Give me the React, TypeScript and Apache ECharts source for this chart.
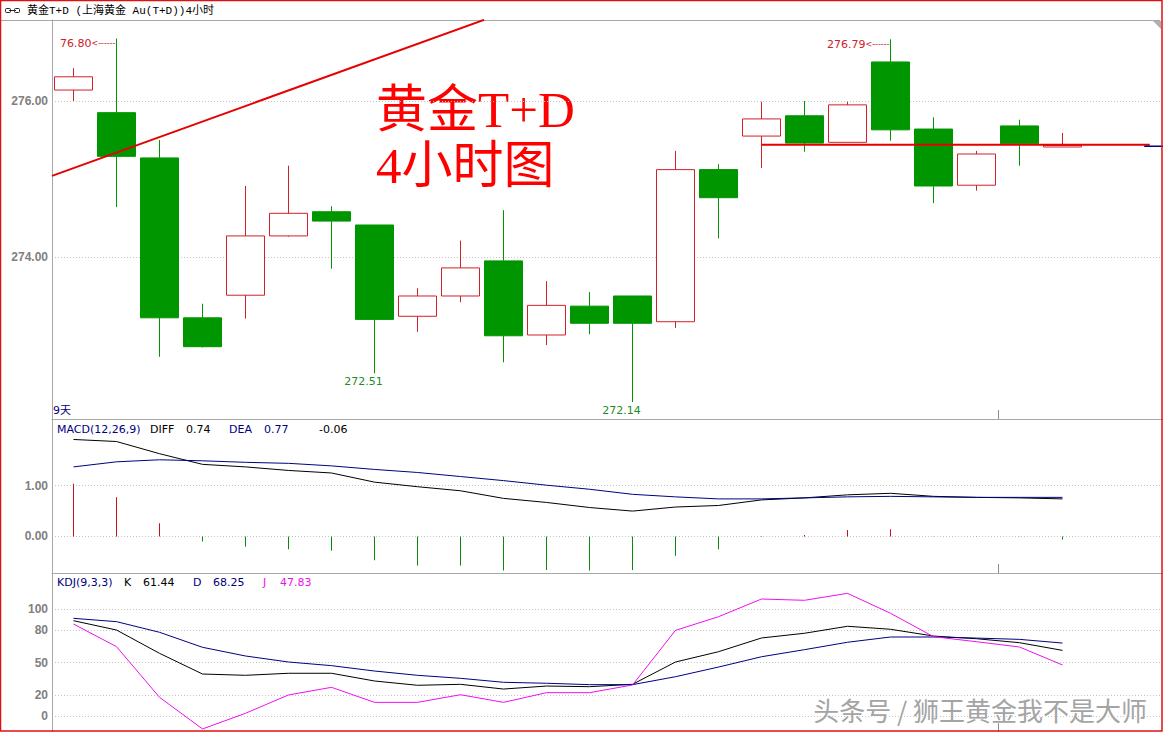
import React, { useEffect, useRef } from "react";
import * as echarts from "echarts";

// ---------- data ----------
const periods = ["1","2","3","4","5","6","7","8","9","10","11","12","13","14","15","16","17","18","19","20","21","22","23","24","",""];
const candleOpen = [276.14,275.85,275.27,273.22,273.51,274.27,274.58,274.41,273.24,273.50,273.95,273.00,273.37,273.50,273.17,275.12,275.55,275.81,275.47,276.50,275.64,274.92,275.68,275.41];
const candleClose = [276.31,275.29,273.22,272.85,274.27,274.56,274.46,273.20,273.50,273.86,272.99,273.38,273.15,273.15,275.12,274.76,275.77,275.46,275.95,275.63,274.91,275.32,275.45,275.43];
const candleLow = [276.00,274.64,272.72,272.84,273.21,274.26,273.85,272.51,273.04,273.42,272.65,272.87,273.01,272.14,273.09,274.24,275.14,275.35,275.47,275.49,274.69,274.85,275.17,275.41];
const candleHigh = [276.42,276.80,275.50,273.40,274.91,275.17,274.65,274.41,273.60,274.21,274.60,273.69,273.55,273.50,275.36,275.19,275.99,276.00,275.99,276.79,275.79,275.36,275.76,275.59];

const macdDiff = [1.91,1.87,1.63,1.42,1.37,1.30,1.25,1.07,0.98,0.90,0.75,0.67,0.57,0.50,0.58,0.61,0.72,0.76,0.82,0.85,0.79,0.77,0.76,0.74];
const macdDea = [1.37,1.47,1.51,1.49,1.46,1.44,1.39,1.32,1.26,1.18,1.10,1.01,0.93,0.83,0.78,0.74,0.74,0.76,0.78,0.79,0.78,0.77,0.77,0.77];
const macdHist = [1.04,0.77,0.26,-0.10,-0.20,-0.25,-0.28,-0.47,-0.57,-0.57,-0.67,-0.66,-0.67,-0.66,-0.38,-0.25,-0.01,0.03,0.13,0.14,0.005,0.004,-0.005,-0.06];

const kdjK = [89.1,80.4,58.7,39.4,38.2,40.1,40.1,32.9,28.9,29.8,25.4,28.2,27.6,29.8,50.6,60.2,73.0,77.4,83.9,81.1,74.8,72.3,68.6,61.44];
const kdjD = [91.3,88.2,78.3,64.3,56.2,50.6,47.2,42.2,38.2,35.4,31.7,30.8,29.5,29.5,36.9,45.9,55.5,62.1,69.0,73.9,73.9,72.9,71.7,68.25];
const kdjJ = [86.0,64.9,17.7,-11.8,2.8,19.9,27.0,13.0,13.0,20.1,13.0,22.0,22.0,29.2,80.1,92.8,109.3,108.1,114.6,96.0,74.2,69.5,64.6,47.83];

const priceTicks = [274, 276];
const macdTicks = [0, 1];
const kdjTicks = [0, 20, 50, 80, 100];
const dayBoundaryTicks = [21.5];

const trendLine = [[-0.5, 275.04], [9.55, 277.04]];
const supportLine = [[16.0, 275.44], [25.03, 275.44]];
const lastPriceMark = [[24.9, 275.42], [25.5, 275.42]];

const highMarkIdx = [1, 19];
const highLabelTrim = [1, 0];
const lowMarkIdx = [7, 13];

// ---------- styles ----------
const RED = "#d0202a";
const GREEN = "#009600";
const NAVY = "#000080";
const MAGENTA = "#ee10ee";
const GRAY = "#a8a8a8";
const SANS = "'DejaVu Sans', 'Noto Sans CJK SC', sans-serif";
const GRID_LEFT = 52;
const GRID_WIDTH = 1118;

export default function App() {
  const ref = useRef<HTMLDivElement>(null);

  useEffect(() => {
    if (!ref.current) return;
    const chart = echarts.init(ref.current, undefined, { renderer: "svg" });

    const candleData = candleOpen.map((o, i) => [o, candleClose[i], candleLow[i], candleHigh[i]]);
    const n = candleOpen.length;
    const last = n - 1;
    const xMin = -0.5;
    const xMax = periods.length - 0.5;

    const yLabel = {
      show: true,
      color: "#808080",
      fontFamily: "'Liberation Sans', Arial, sans-serif",
      fontWeight: "bold" as const,
      fontSize: 12,
      margin: 4,
    };
    const splitLine = { show: true, lineStyle: { color: "#c4c4c4", type: [1, 2] as any, width: 1 } };

    const xCat = (gridIndex: number) => ({
      type: "category" as const,
      gridIndex,
      data: periods,
      boundaryGap: true,
      position: "bottom" as const,
      axisLine: { show: true, onZero: false, lineStyle: { color: GRAY } },
      axisTick: { show: false },
      axisLabel: { show: false },
      splitLine: { show: false },
    });

    const xVal = (gridIndex: number) => ({
      type: "value" as const,
      gridIndex,
      min: xMin,
      max: xMax,
      position: "bottom" as const,
      axisLine: { show: false, onZero: false },
      axisTick: { show: true, inside: true, length: 9, customValues: dayBoundaryTicks, lineStyle: { color: "#8c8c8c" } },
      axisLabel: { show: false, customValues: dayBoundaryTicks },
      splitLine: { show: false },
    });

    const yAxisBase = {
      type: "value" as const,
      position: "left" as const,
      axisLine: { show: true, onZero: false, lineStyle: { color: GRAY } },
      splitLine,
    };

    const gridBase = { left: GRID_LEFT, width: GRID_WIDTH, outerBoundsMode: "none", containLabel: false };

    const option: any = {
      animation: false,
      backgroundColor: "#ffffff",
      grid: [
        { ...gridBase, top: 20, height: 399 },
        { ...gridBase, top: 419, height: 154 },
        { ...gridBase, top: 573, height: 159 },
      ],
      xAxis: [xCat(0), xCat(1), xCat(2), xVal(0), xVal(1), xVal(2)],
      yAxis: [
        {
          ...yAxisBase, gridIndex: 0, min: 271.923, max: 277.038,
          axisTick: { show: false, customValues: priceTicks },
          axisLabel: { ...yLabel, customValues: priceTicks, formatter: (v: number) => v.toFixed(2) },
        },
        {
          ...yAxisBase, gridIndex: 1, min: -0.719, max: 2.313,
          axisTick: { show: false, customValues: macdTicks },
          axisLabel: { ...yLabel, customValues: macdTicks, formatter: (v: number) => v.toFixed(2) },
        },
        {
          ...yAxisBase, gridIndex: 2, min: -14.63, max: 133.55,
          axisTick: { show: false, customValues: kdjTicks },
          axisLabel: { ...yLabel, customValues: kdjTicks, formatter: (v: number) => String(Math.round(v)) },
        },
      ],
      series: [
        {
          type: "candlestick",
          xAxisIndex: 0, yAxisIndex: 0,
          data: candleData,
          barWidth: 38,
          itemStyle: { color: "#ffffff", color0: GREEN, borderColor: RED, borderColor0: GREEN, borderWidth: 1 },
          markPoint: {
            symbol: "circle",
            symbolSize: 0,
            silent: true,
            animation: false,
            data: [
              ...highMarkIdx.map((i, k) => ({
                coord: [i, candleHigh[i]],
                value: candleHigh[i],
                label: {
                  show: true,
                  position: "left",
                  distance: 1,
                  offset: [0, 5],
                  formatter: `{v|${candleHigh[i].toFixed(2).slice(highLabelTrim[k])}}{a|<------}`,
                  rich: {
                    v: { color: RED, fontSize: 11, fontFamily: SANS },
                    a: { color: RED, fontSize: 8, fontFamily: SANS },
                  },
                },
              })),
              ...lowMarkIdx.map((i) => ({
                coord: [i, candleLow[i]],
                value: candleLow[i],
                label: {
                  show: true,
                  position: "bottom",
                  distance: 3,
                  offset: [-11, 0],
                  color: "#1f8a1f",
                  fontSize: 11,
                  fontFamily: SANS,
                  formatter: candleLow[i].toFixed(2),
                },
              })),
            ],
          },
        },
        {
          type: "line", xAxisIndex: 3, yAxisIndex: 0, data: trendLine,
          symbol: "none", lineStyle: { color: "#e60000", width: 2 }, clip: true, silent: true,
        },
        {
          type: "line", xAxisIndex: 3, yAxisIndex: 0, data: supportLine,
          symbol: "none", lineStyle: { color: "#e60000", width: 2 }, clip: true, silent: true,
        },
        {
          type: "line", xAxisIndex: 3, yAxisIndex: 0, data: lastPriceMark,
          symbol: "none", lineStyle: { color: NAVY, width: 1.5 }, clip: true, silent: true,
        },
        {
          type: "bar", xAxisIndex: 1, yAxisIndex: 1, data: macdHist, barWidth: 1,
          itemStyle: { color: (p: any) => (p.value >= 0 ? "#c8101c" : "#0a8a0a") },
          silent: true,
        },
        {
          type: "line", xAxisIndex: 1, yAxisIndex: 1, data: macdDiff,
          symbol: "none", lineStyle: { color: "#000000", width: 1 }, silent: true,
        },
        {
          type: "line", xAxisIndex: 1, yAxisIndex: 1, data: macdDea,
          symbol: "none", lineStyle: { color: NAVY, width: 1 }, silent: true,
        },
        {
          type: "line", xAxisIndex: 2, yAxisIndex: 2, data: kdjK,
          symbol: "none", lineStyle: { color: "#000000", width: 1 }, silent: true, clip: true,
        },
        {
          type: "line", xAxisIndex: 2, yAxisIndex: 2, data: kdjD,
          symbol: "none", lineStyle: { color: NAVY, width: 1 }, silent: true, clip: true,
        },
        {
          type: "line", xAxisIndex: 2, yAxisIndex: 2, data: kdjJ,
          symbol: "none", lineStyle: { color: MAGENTA, width: 1 }, silent: true, clip: true,
        },
      ],
      graphic: [
        // header separator
        { type: "line", shape: { x1: 0, y1: 20.5, x2: 1160, y2: 20.5 }, style: { stroke: GRAY, lineWidth: 1 }, silent: true },
        { type: "polygon", shape: { points: [[1153, 21], [1161, 21], [1161, 29]] }, style: { fill: "#b0b0b0" }, silent: true },
        // header link icon
        { type: "rect", shape: { x: 5.5, y: 8.5, width: 5, height: 4, r: 1 }, style: { fill: "none", stroke: "#222", lineWidth: 1 }, silent: true },
        { type: "rect", shape: { x: 14.5, y: 8.5, width: 5, height: 4, r: 1 }, style: { fill: "none", stroke: "#222", lineWidth: 1 }, silent: true },
        { type: "line", shape: { x1: 9, y1: 10.5, x2: 16, y2: 10.5 }, style: { stroke: "#222", lineWidth: 1 }, silent: true },
        {
          type: "text", x: 27, y: 11, silent: true,
          style: { text: "黄金T+D (上海黄金 Au(T+D))4小时", fill: "#000", fontSize: 11, fontFamily: "'Liberation Mono', 'Noto Sans CJK SC', monospace", verticalAlign: "middle" },
        },
        // big red title
        {
          type: "text", x: 376, y: 110, silent: true,
          style: { text: "黄金T+D", fill: "#ff0000", fontSize: 51, fontFamily: "'Liberation Serif', 'Noto Sans CJK SC', serif", verticalAlign: "middle" },
        },
        {
          type: "text", x: 376, y: 166, silent: true,
          style: { text: "4小时图", fill: "#ff0000", fontSize: 51, fontFamily: "'Liberation Serif', 'Noto Sans CJK SC', serif", verticalAlign: "middle" },
        },
        // period label
        { type: "text", x: 53, y: 410, silent: true, style: { text: "9天", fill: NAVY, fontSize: 11, fontFamily: SANS, verticalAlign: "middle" } },
        // MACD header
        { type: "text", x: 57, y: 429, silent: true, style: { text: "MACD(12,26,9)", fill: NAVY, fontSize: 11, fontFamily: SANS, verticalAlign: "middle" } },
        { type: "text", x: 150, y: 429, silent: true, style: { text: "DIFF", fill: "#000", fontSize: 11, fontFamily: SANS, verticalAlign: "middle" } },
        { type: "text", x: 186, y: 429, silent: true, style: { text: macdDiff[last].toFixed(2), fill: "#000", fontSize: 11, fontFamily: SANS, verticalAlign: "middle" } },
        { type: "text", x: 229, y: 429, silent: true, style: { text: "DEA", fill: NAVY, fontSize: 11, fontFamily: SANS, verticalAlign: "middle" } },
        { type: "text", x: 264, y: 429, silent: true, style: { text: macdDea[last].toFixed(2), fill: NAVY, fontSize: 11, fontFamily: SANS, verticalAlign: "middle" } },
        { type: "text", x: 319, y: 429, silent: true, style: { text: macdHist[last].toFixed(2), fill: "#000", fontSize: 11, fontFamily: SANS, verticalAlign: "middle" } },
        // KDJ header
        { type: "text", x: 57, y: 582, silent: true, style: { text: "KDJ(9,3,3)", fill: NAVY, fontSize: 11, fontFamily: SANS, verticalAlign: "middle" } },
        { type: "text", x: 124, y: 582, silent: true, style: { text: "K", fill: "#000", fontSize: 11, fontFamily: SANS, verticalAlign: "middle" } },
        { type: "text", x: 143, y: 582, silent: true, style: { text: kdjK[last].toFixed(2), fill: "#000", fontSize: 11, fontFamily: SANS, verticalAlign: "middle" } },
        { type: "text", x: 193, y: 582, silent: true, style: { text: "D", fill: NAVY, fontSize: 11, fontFamily: SANS, verticalAlign: "middle" } },
        { type: "text", x: 213, y: 582, silent: true, style: { text: kdjD[last].toFixed(2), fill: NAVY, fontSize: 11, fontFamily: SANS, verticalAlign: "middle" } },
        { type: "text", x: 263, y: 582, silent: true, style: { text: "J", fill: MAGENTA, fontSize: 11, fontFamily: SANS, verticalAlign: "middle" } },
        { type: "text", x: 280, y: 582, silent: true, style: { text: kdjJ[last].toFixed(2), fill: MAGENTA, fontSize: 11, fontFamily: SANS, verticalAlign: "middle" } },
        // watermark
        {
          type: "text", x: 1147, y: 709, silent: true, z: 100,
          style: {
            text: "头条号 / 狮王黄金我不是大师", fill: "#a4a4a4", fontSize: 26,
            fontFamily: "'Noto Sans CJK SC', sans-serif", align: "right", verticalAlign: "middle",
            stroke: "#ffffff", lineWidth: 1,
            shadowColor: "rgba(0,0,0,0.6)", shadowOffsetX: 1, shadowOffsetY: 1, shadowBlur: 1,
          },
        },
        // outer red border
        { type: "rect", z: 100, shape: { x: 0.5, y: 0.5, width: 1161.5, height: 730.5 }, style: { fill: "none", stroke: "#e01010", lineWidth: 1.5 }, silent: true },
      ],
    };

    chart.setOption(option);
    return () => chart.dispose();
  }, []);

  return (
    <div
      ref={ref}
      style={{ position: "fixed", left: 0, top: 0, width: 1163, height: 732, background: "#fff" }}
    />
  );
}
